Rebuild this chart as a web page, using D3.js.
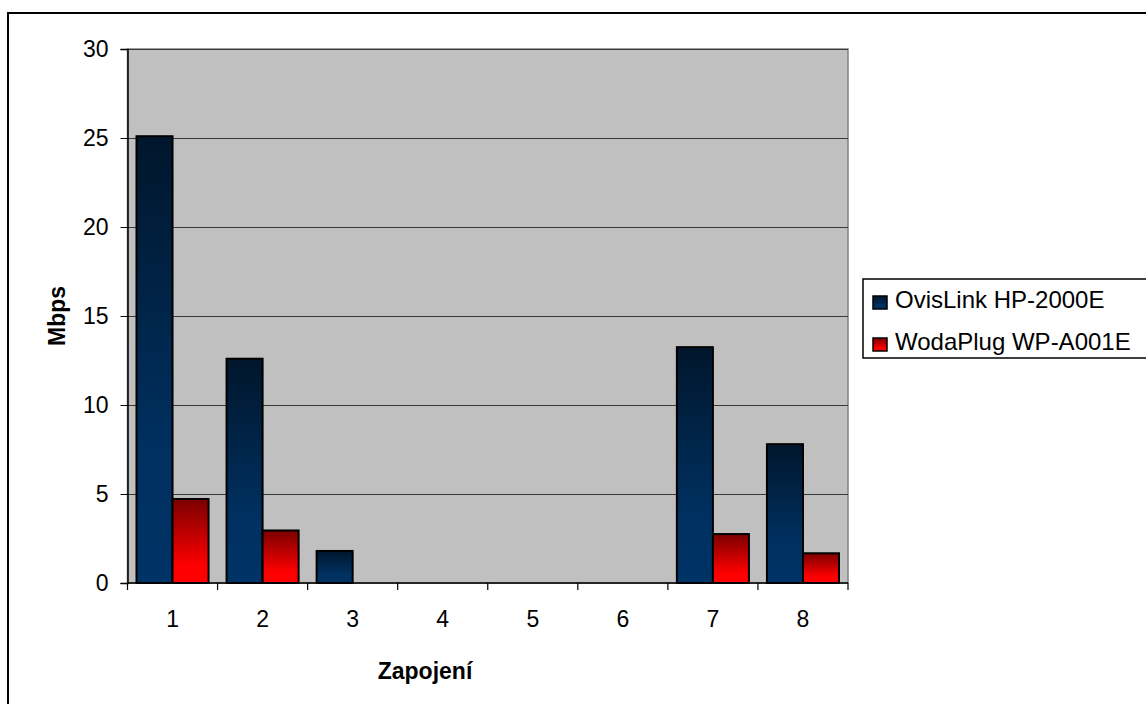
<!DOCTYPE html>
<html>
<head>
<meta charset="utf-8">
<script src="https://cdn.jsdelivr.net/npm/d3@7"></script>
<style>
  html, body { margin: 0; padding: 0; background: #fff; }
  svg { display: block; font-family: "Liberation Sans", Arial, sans-serif; }
</style>
</head>
<body>
<svg id="chart" width="1146" height="704"></svg>
<script>
// Throughput per connection setup (Mbps)
const categories = ["1", "2", "3", "4", "5", "6", "7", "8"];
const seriesNames = ["OvisLink HP-2000E", "WodaPlug WP-A001E"];
const ovislink = [25.1, 12.6, 1.8, 0, 0, 0, 13.25, 7.8];
const wodaplug = [4.72, 2.95, 0, 0, 0, 0, 2.75, 1.67];
const yTicks = [0, 5, 10, 15, 20, 25, 30];
const xTitle = "Zapojení";
const yTitle = "Mbps";

const svg = d3.select("#chart");
const W = 1146, H = 704;
const plot = { left: 127.5, top: 49, right: 848, bottom: 583 };

// gradients for the two series
const defs = svg.append("defs");
const gBlue = defs.append("linearGradient").attr("id", "gBlue")
  .attr("x1", 0).attr("y1", 0).attr("x2", 0).attr("y2", 1);
gBlue.append("stop").attr("offset", "0%").attr("stop-color", "#00162c");
gBlue.append("stop").attr("offset", "70%").attr("stop-color", "#003060");
gBlue.append("stop").attr("offset", "100%").attr("stop-color", "#003366");
const gRed = defs.append("linearGradient").attr("id", "gRed")
  .attr("x1", 0).attr("y1", 0).attr("x2", 0).attr("y2", 1);
gRed.append("stop").attr("offset", "0%").attr("stop-color", "#7a0000");
gRed.append("stop").attr("offset", "80%").attr("stop-color", "#ff0000");
gRed.append("stop").attr("offset", "100%").attr("stop-color", "#ff0000");
const fills = ["url(#gBlue)", "url(#gRed)"];

// outer chart frame (runs past the right and bottom edges)
svg.append("rect").attr("x", 8).attr("y", 13)
  .attr("width", W).attr("height", H)
  .attr("fill", "#fff").attr("stroke", "#000").attr("stroke-width", 2);

const x = d3.scaleBand().domain(categories).range([plot.left, plot.right]).padding(0);
const y = d3.scaleLinear().domain([0, 30]).range([plot.bottom, plot.top]);

// plot background
svg.append("rect").attr("x", plot.left).attr("y", plot.top)
  .attr("width", plot.right - plot.left).attr("height", plot.bottom - plot.top)
  .attr("fill", "#c0c0c0").attr("stroke", "#808080").attr("stroke-width", 1.5);

// horizontal gridlines
svg.append("g").selectAll("line").data(yTicks.filter(d => d > 0)).join("line")
  .attr("x1", plot.left).attr("x2", plot.right)
  .attr("y1", d => Math.round(y(d)) + 0.5).attr("y2", d => Math.round(y(d)) + 0.5)
  .attr("stroke", "#3a3a3a").attr("stroke-width", 1);

// bars
const bw = x.bandwidth() / 2.5;
const data = categories.map((c, i) => ({ c, vals: [ovislink[i], wodaplug[i]] }));
const groups = svg.append("g").selectAll("g").data(data).join("g")
  .attr("transform", d => `translate(${x(d.c) + bw * 0.25},0)`);
groups.selectAll("rect")
  .data(d => d.vals.map((v, k) => ({ v, k })).filter(e => e.v > 0))
  .join("rect")
  .attr("x", e => e.k * bw)
  .attr("y", e => y(e.v))
  .attr("width", bw)
  .attr("height", e => y(0) - y(e.v))
  .attr("fill", e => fills[e.k])
  .attr("stroke", "#000").attr("stroke-width", 2);

// y axis
const yAxis = d3.axisLeft(y).tickValues(yTicks).tickSize(7).tickPadding(12);
const gy = svg.append("g").attr("transform", `translate(${plot.left},0)`).call(yAxis);
gy.select(".domain").attr("stroke", "#000").attr("stroke-width", 1.5);
gy.selectAll(".tick line").attr("stroke", "#000");
gy.selectAll("text").attr("font-size", 23).attr("fill", "#000")
  .attr("font-family", "Liberation Sans, Arial, sans-serif");

// x axis: ticks sit on category boundaries, labels at band centres
const gx = svg.append("g").attr("transform", `translate(0,${plot.bottom})`);
gx.append("line").attr("x1", plot.left).attr("x2", plot.right)
  .attr("y1", 0).attr("y2", 0).attr("stroke", "#000").attr("stroke-width", 1.5);
const bounds = categories.map(c => x(c)).concat([plot.right]);
gx.selectAll("line.tk").data(bounds).join("line").attr("class", "tk")
  .attr("x1", d => d).attr("x2", d => d).attr("y1", 0).attr("y2", 7)
  .attr("stroke", "#000").attr("stroke-width", 1.2);
gx.selectAll("text").data(categories).join("text")
  .attr("x", d => x(d) + x.bandwidth() / 2).attr("y", 44)
  .attr("text-anchor", "middle").attr("font-size", 23).attr("fill", "#000")
  .text(d => d);

// axis titles
svg.append("text").attr("x", 425).attr("y", 679)
  .attr("text-anchor", "middle").attr("font-size", 23).attr("font-weight", "bold")
  .text(xTitle);
svg.append("text").attr("transform", `translate(65,${(plot.top + plot.bottom) / 2}) rotate(-90)`)
  .attr("text-anchor", "middle").attr("font-size", 23).attr("font-weight", "bold")
  .text(yTitle);

// legend
const lg = svg.append("g");
lg.append("rect").attr("x", 863).attr("y", 279).attr("width", 400).attr("height", 79)
  .attr("fill", "#fff").attr("stroke", "#000").attr("stroke-width", 1.5);
const items = lg.selectAll("g").data(seriesNames).join("g")
  .attr("transform", (d, i) => `translate(873,${296 + i * 42})`);
items.append("rect").attr("width", 14).attr("height", 13)
  .attr("fill", (d, i) => fills[i]).attr("stroke", "#000").attr("stroke-width", 1.5);
items.append("text").attr("x", 22).attr("y", 12)
  .attr("font-size", 24).attr("fill", "#000").text(d => d);
</script>
</body>
</html>
